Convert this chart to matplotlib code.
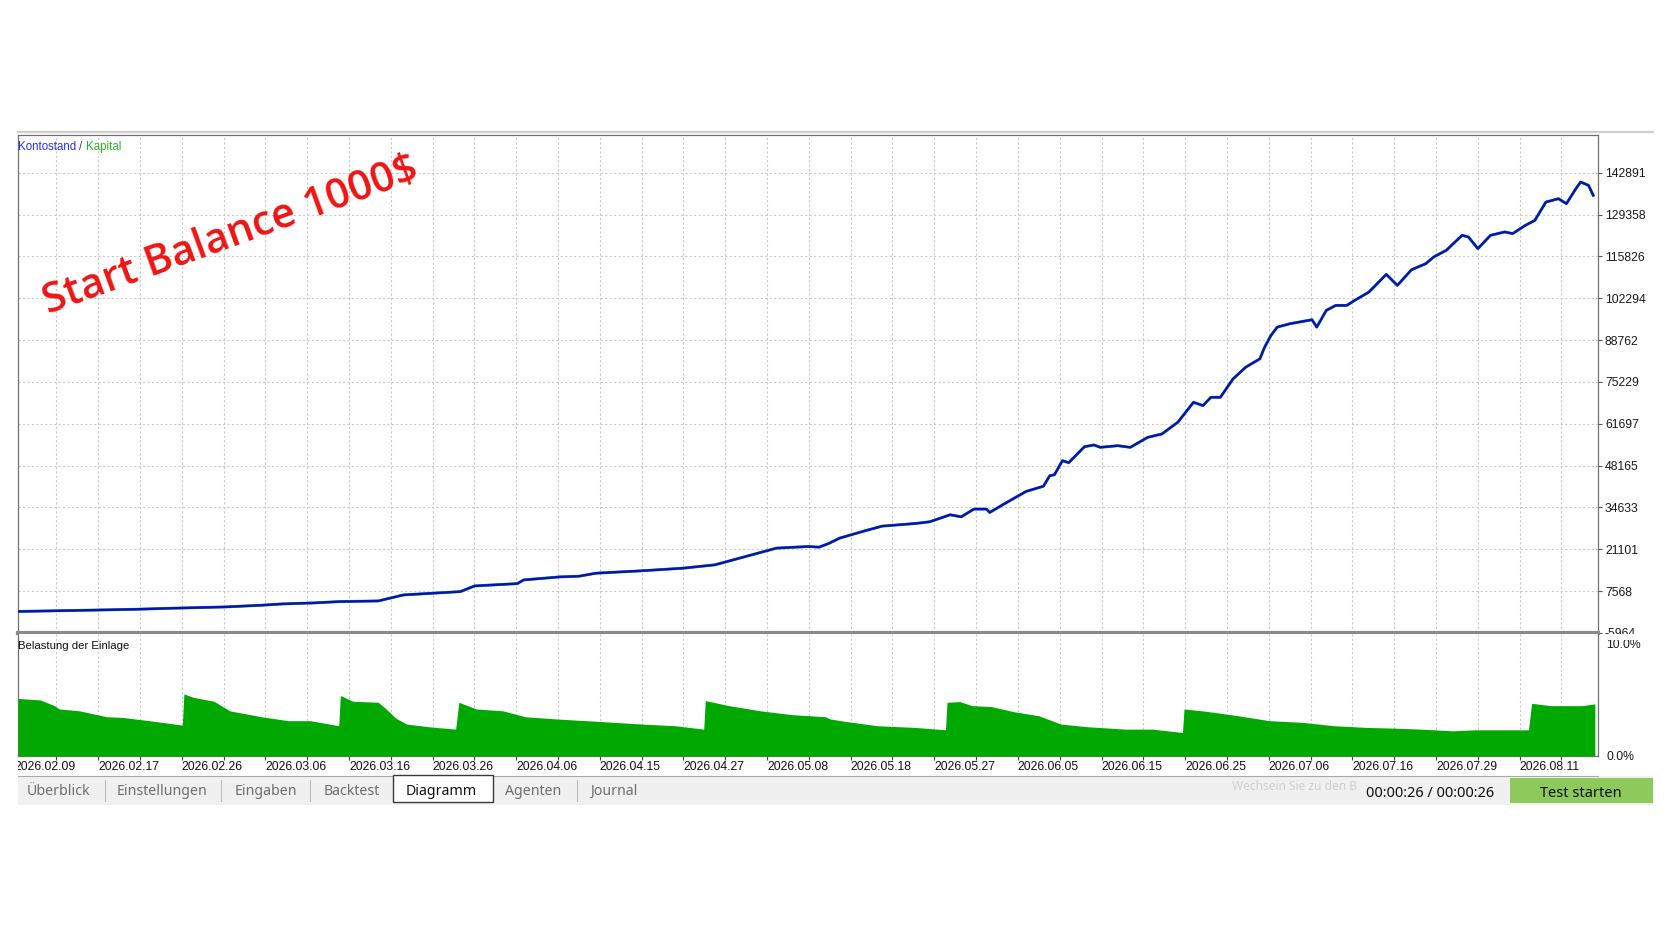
import matplotlib
matplotlib.use("Agg")
import matplotlib.pyplot as plt
from matplotlib.patches import Rectangle
from matplotlib.lines import Line2D
from matplotlib.transforms import Bbox, TransformedBbox, blended_transform_factory

plt.rcParams['font.family'] = ['Liberation Sans', 'DejaVu Sans']

W, H = 1672, 941

# balance curve: deal number -> balance ($)
deal = [0, 43, 75, 97, 131, 154, 167, 187, 203, 228, 244, 280, 289, 316, 320, 343,
        355, 366, 394, 421, 441, 448, 466, 480, 500, 507, 513, 520, 536, 547, 568,
        577, 590, 597, 605, 613, 615, 624, 638, 649, 653, 656, 661, 665, 675, 681,
        685, 696, 704, 715, 724, 734, 744, 750, 755, 761, 769, 777, 786, 789, 793,
        797, 805, 819, 822, 828, 834, 841, 846, 855, 866, 873, 882, 891, 896, 904,
        914, 918, 924, 932, 941, 946, 954, 960, 967, 975, 980, 986, 989, 994, 997]
balance = [1000, 1390, 1710, 2040, 2460, 3010, 3430, 3760, 4180, 4400, 6350, 7420,
           9260, 10000, 11200, 12180, 12400, 13380, 14130, 15000, 16070, 17040,
           19530, 21480, 22000, 21800, 22960, 24710, 27080, 28600, 29450, 30000,
           32260, 31610, 34110, 34110, 33010, 35730, 39810, 41500, 44900, 45220,
           49760, 49110, 54290, 54840, 54070, 54610, 54070, 57310, 58400, 62160,
           68640, 67570, 70260, 70260, 76200, 79980, 82700, 86470, 90250, 92950,
           94050, 95340, 92950, 98350, 99970, 99970, 101600, 104280, 110010, 106450,
           111530, 113470, 115630, 117800, 122650, 122100, 118340, 122650, 123730,
           123200, 125850, 127460, 133400, 134480, 132870, 137720, 139880, 138800,
           135560]

# deposit load (Belastung der Einlage), percent
load_deal = [0, 14, 23, 26, 39, 56, 66, 83, 104, 105, 111, 124, 134, 154, 171, 185,
             203, 204, 212, 228, 233, 239, 246, 260, 277, 279, 290, 307, 321, 341,
             368, 395, 416, 434, 435, 450, 470, 490, 511, 514, 524, 544, 568, 587,
             588, 596, 604, 616, 630, 646, 660, 677, 701, 718, 737, 738, 752, 772,
             792, 813, 833, 854, 871, 888, 908, 922, 956, 958, 970, 990, 998]
load_pct = [5.1, 4.97, 4.46, 4.17, 4.0, 3.48, 3.42, 3.13, 2.74, 5.5, 5.2, 4.85, 4.0,
            3.48, 3.13, 3.13, 2.68, 5.36, 4.85, 4.76, 4.17, 3.36, 2.83, 2.59, 2.38,
            4.76, 4.17, 4.0, 3.48, 3.28, 3.06, 2.83, 2.68, 2.38, 4.91, 4.46, 4.0,
            3.66, 3.48, 3.28, 3.06, 2.68, 2.53, 2.32, 4.76, 4.82, 4.46, 4.38, 3.93,
            3.57, 2.83, 2.59, 2.38, 2.38, 2.08, 4.17, 3.96, 3.57, 3.13, 2.98, 2.68,
            2.53, 2.47, 2.38, 2.23, 2.32, 2.32, 4.67, 4.46, 4.46, 4.62]

y_ticks = [-5964, 7568, 21101, 34633, 48165, 61697, 75229, 88762, 102294, 115826,
           129358, 142891]
date_labels = ['2026.02.09', '2026.02.17', '2026.02.26', '2026.03.06', '2026.03.16',
               '2026.03.26', '2026.04.06', '2026.04.15', '2026.04.27', '2026.05.08',
               '2026.05.18', '2026.05.27', '2026.06.05', '2026.06.15', '2026.06.25',
               '2026.07.06', '2026.07.16', '2026.07.29', '2026.08.11']
tabs = ['Überblick', 'Einstellungen', 'Eingaben', 'Backtest', 'Diagramm', 'Agenten', 'Journal']

blue = '#0c0cc8'
green = '#22b422'
fill_green = '#00a800'
grid_c = '#c9c9c9'
frame_c = '#707070'


def fx(x):
    return x / W


def fy(y):
    return 1 - y / H


fig = plt.figure(figsize=(W / 100, H / 100), dpi=100)
fig.patch.set_facecolor('white')

ax1 = fig.add_axes([fx(18), fy(633), fx(1598) - fx(18), fy(135) - fy(633)])
ax2 = fig.add_axes([fx(18), fy(756), fx(1598) - fx(18), fy(634) - fy(756)])

# x grid: every other grid line carries a date label
first_x = -2.2
half_step = 26.46
grid_x = [first_x + k * half_step for k in range(1, 38)]

# --- balance / equity panel
ax1.plot(deal, balance, color=green, lw=2.1, zorder=3, solid_joinstyle='round')
ax1.plot(deal, balance, color=blue, lw=1.7, zorder=4, solid_joinstyle='round')
ax1.set_xlim(0, 1000)
ax1.set_ylim(-5964, 155080)
ax1.set_yticks(y_ticks)
ax1.set_yticklabels([str(v) for v in y_ticks])
ax1.yaxis.tick_right()
ax1.tick_params(axis='y', length=3, width=0.8, pad=2, labelsize=8.8,
                color='#555555', labelcolor='#1a1a1a')
ax1.set_xticks(grid_x)
ax1.tick_params(axis='x', length=0, labelbottom=False)
ax1.grid(True, ls=(0, (2, 2)), color=grid_c, lw=0.8)
ax1.set_axisbelow(True)
for s in ['left', 'top', 'right']:
    ax1.spines[s].set_color(frame_c)
    ax1.spines[s].set_linewidth(0.9)
ax1.spines['bottom'].set_color('#8a8a8a')
ax1.spines['bottom'].set_linewidth(3)

ax1.text(0.0, 0.975, 'Kontostand', transform=ax1.transAxes, fontsize=8.3,
         color='#3030e0', ha='left', va='center')
ax1.text(fx(83) - fx(18), 0.975, '/', transform=ax1.transAxes, fontsize=8.3,
         color='#404040', ha='left', va='center')
ax1.text(fx(90) - fx(18), 0.975, 'Kapital', transform=ax1.transAxes, fontsize=8.3,
         color='#28b428', ha='left', va='center')

# --- deposit load panel
ax2.fill_between(load_deal, load_pct, 0, color=fill_green, lw=0, zorder=3)
ax2.set_xlim(0, 1000)
ax2.set_ylim(0, 10.81)
ax2.set_yticks([0, 10])
ax2.set_yticklabels(['0.0%', '10.0%'])
ax2.yaxis.tick_right()
ax2.tick_params(axis='y', length=0, pad=6, labelsize=8.8, labelcolor='#1a1a1a')
ax2.set_xticks(grid_x)
ax2.set_xticklabels([])
ax2.tick_params(axis='x', length=3, width=0.8, color='#404040')
ax2.grid(axis='x', ls=(0, (2, 2)), color=grid_c, lw=0.8)
ax2.set_axisbelow(True)
ax2.spines['top'].set_visible(False)
for s in ['left', 'right', 'bottom']:
    ax2.spines[s].set_color(frame_c)
    ax2.spines[s].set_linewidth(0.9)
ax2.text(0.0, 0.9, 'Belastung der Einlage', transform=ax2.transAxes, fontsize=8.2,
         color='#111111', ha='left', va='center')

trans = blended_transform_factory(ax2.transData, ax2.transAxes)
clip = TransformedBbox(Bbox([[fx(18), 0], [1, 1]]), fig.transFigure)
for k, lab in enumerate(date_labels):
    t = ax2.text(first_x + k * 2 * half_step, -0.045, lab, transform=trans,
                 ha='left', va='top', fontsize=8.8, color='#111111')
    t.set_clip_box(clip)
    t.set_clip_on(True)

# hide lower half of the cut-off -5964 label like the terminal does
fig.add_artist(Rectangle((fx(1600), fy(640)), fx(70), fy(633.5) - fy(640),
                         transform=fig.transFigure, facecolor='white',
                         edgecolor='none', zorder=5))

# top window line
fig.add_artist(Line2D([fx(18), fx(1653)], [fy(132), fy(132)], transform=fig.transFigure,
                      color='#cfcfcf', lw=1.6))

# --- tab bar
fig.add_artist(Rectangle((fx(18), fy(805)), fx(1653) - fx(18), fy(776) - fy(805),
                         transform=fig.transFigure, facecolor='#f0f0f0',
                         edgecolor='none', zorder=1))
fig.add_artist(Line2D([fx(18), fx(1598)], [fy(776), fy(776)], transform=fig.transFigure,
                      color='#a8a8a8', lw=0.8, zorder=2))
fig.add_artist(Rectangle((fx(393), fy(802)), fx(493) - fx(393), fy(775) - fy(802),
                         transform=fig.transFigure, facecolor='white',
                         edgecolor='#3a3a3a', lw=1.0, zorder=2))
for sx in [104.5, 220.7, 310, 577]:
    fig.add_artist(Line2D([fx(sx), fx(sx)], [fy(780), fy(801)], transform=fig.transFigure,
                          color='#bdbdbd', lw=0.8, zorder=2))
tab_x = [26.7, 117, 235, 324, 406, 505, 590]
for lab, tx in zip(tabs, tab_x):
    fig.text(fx(tx), fy(791.5), lab, ha='left', va='center', fontsize=10.2,
             family=['Noto Sans', 'DejaVu Sans'],
             color='#111111' if lab == 'Diagramm' else '#6e6e6e', zorder=3)

fig.text(fx(1232), fy(786), 'Wechsein Sie zu den B', ha='left', va='center',
         fontsize=8.6, family=['Noto Sans', 'DejaVu Sans'], color='#cfcfcf', zorder=3)
fig.text(fx(1430), fy(793.5), '00:00:26 / 00:00:26', ha='center', va='center',
         fontsize=10.5, family=['Noto Sans', 'DejaVu Sans'], color='#111111', zorder=4)
fig.add_artist(Rectangle((fx(1510), fy(803)), fx(1653) - fx(1510), fy(778) - fy(803),
                         transform=fig.transFigure, facecolor='#8dc95b',
                         edgecolor='none', zorder=2))
fig.text(fx(1581), fy(793.5), 'Test starten', ha='center', va='center', fontsize=10.5,
         family=['Noto Sans', 'DejaVu Sans'], color='#111111', zorder=4)

# --- overlay annotation
fig.text(fx(231), fy(236), 'Start Balance 1000$', ha='center', va='center',
         rotation=20, rotation_mode='anchor', fontsize=30, color='#f01414',
         family=['Open Sans', 'DejaVu Sans'], weight='semibold', zorder=6)

fig.savefig('out.png', dpi=100)
